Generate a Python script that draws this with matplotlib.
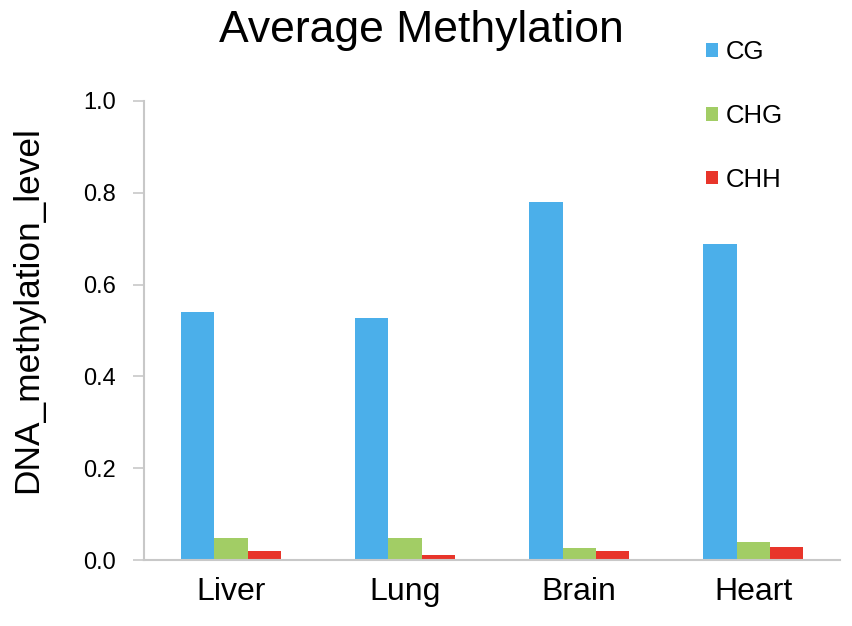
#!/usr/bin/env python3
"""Average methylation per tissue, grouped bars (CG / CHG / CHH)."""
import numpy as np
import matplotlib
matplotlib.use("Agg")
import matplotlib.pyplot as plt
from matplotlib.patches import Patch

plt.rcParams["font.family"] = ["Liberation Sans", "DejaVu Sans"]

tissues = ["Liver", "Lung", "Brain", "Heart"]
contexts = ["CG", "CHG", "CHH"]
cg = [0.540, 0.527, 0.780, 0.688]
chg = [0.049, 0.049, 0.027, 0.040]
chh = [0.019, 0.010, 0.019, 0.028]
colors = ["#4BAFEA", "#A2CD65", "#E8352A"]

fig = plt.figure(figsize=(8.52, 6.26), dpi=100)
ax = fig.add_axes([0.169, 0.1054, 0.817, 0.7334])

x = np.arange(len(tissues))
w = 0.19
for i, (vals, c) in enumerate(zip([cg, chg, chh], colors)):
    ax.bar(x + (i - 1) * w, vals, width=w, color=c, linewidth=0)

ax.set_xlim(-0.5, len(tissues) - 0.5)
ax.set_ylim(0, 1.0)
ax.set_yticks(np.arange(0, 1.01, 0.2))
ax.set_yticklabels([f"{v:.1f}" for v in np.arange(0, 1.01, 0.2)], fontsize=17)
ax.set_xticks(x)
ax.set_xticklabels(tissues, fontsize=23)
ax.tick_params(axis="x", length=0, pad=12)
ax.tick_params(axis="y", length=8, color="#c8c8c8", width=1.2, pad=12)

for s in ["top", "right"]:
    ax.spines[s].set_visible(False)
for s in ["left", "bottom"]:
    ax.spines[s].set_color("#c8c8c8")
    ax.spines[s].set_linewidth(1.5)

# y label sits a bit above the axes centre in the original
fig.text(0.032, 0.506, "DNA_methylation_level", rotation=90,
         ha="center", va="center", fontsize=25.4)
fig.text(0.495, 0.952, "Average Methylation", ha="center", va="center", fontsize=32)

handles = [Patch(facecolor=c, edgecolor="none") for c in colors]
fig.legend(handles, contexts, loc="upper left", bbox_to_anchor=(0.829, 0.936),
           frameon=False, fontsize=18.5, handlelength=0.45, handleheight=0.45,
           handletextpad=0.3, labelspacing=1.55, borderpad=0, borderaxespad=0)

fig.savefig("out.png", dpi=100, facecolor="white")
